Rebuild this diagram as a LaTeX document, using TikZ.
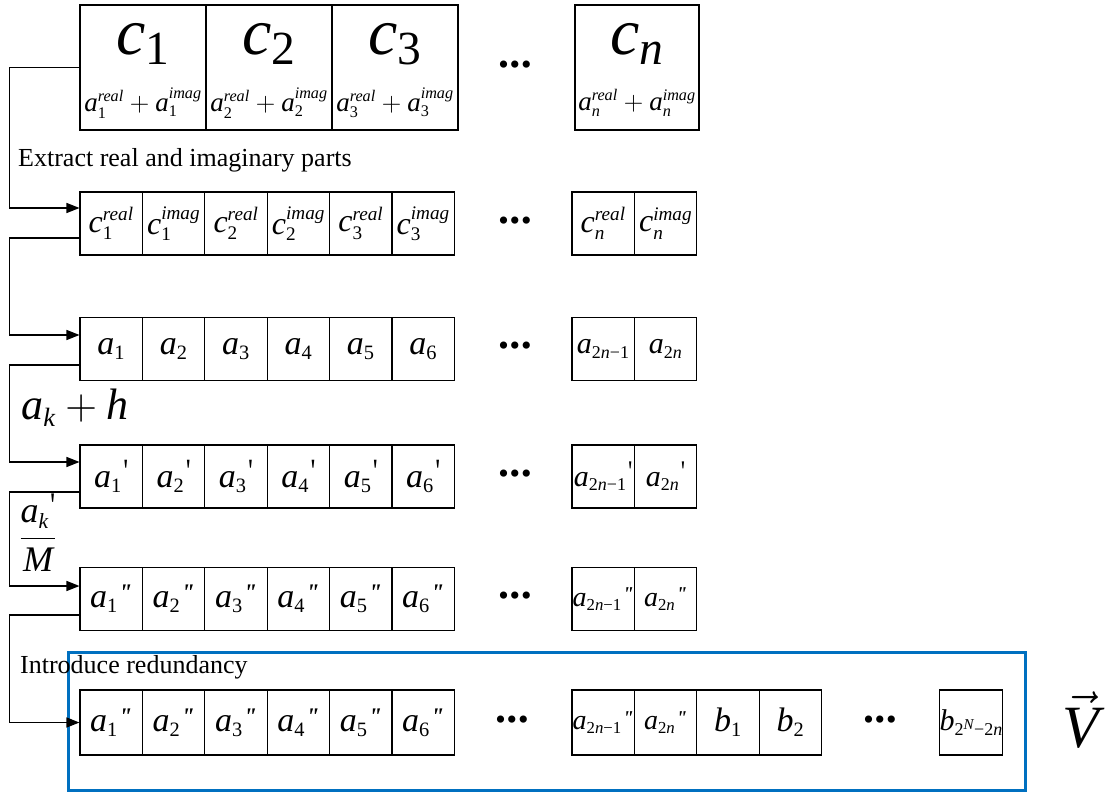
\RequirePackage{fix-cm}
\documentclass[tikz,border=0pt]{standalone}
\usepackage{amsmath}
\usepackage{graphicx}
\usepackage{fontspec}
\setmainfont{Liberation Serif}
\usetikzlibrary{arrows.meta}
\definecolor{boxblue}{RGB}{0,112,192}
\renewcommand{\defaultscriptratio}{.6}
\newcommand{\iv}[1]{\textit{#1}}
\newcommand{\up}[1]{\text{#1}}
\newcommand{\fs}[1]{\fontsize{#1}{#1}\selectfont}
\newcommand{\pr}{\text{\kern1.5pt\raisebox{.14em}{\scalebox{.8}[1]{\textquotesingle}}}}
\newcommand{\ppr}{\text{\kern1pt\raisebox{.2em}{\scalebox{.7}{\textbf{\textit{\textquotedbl}}}}}}
\newcommand{\threedots}{\textbullet\kern1pt\textbullet\kern1pt\textbullet}
\begin{document}
\begin{tikzpicture}[x=1pt,y=-1pt,
  cell/.style={draw, line width=1.1pt, inner sep=0pt, minimum width=62.4pt, minimum height=63pt, font=\fs{34}},
  narrow/.style={font=\fs{30}},
  narrower/.style={font=\fs{28}},
  big/.style={draw, line width=1.1pt, inner sep=0pt, minimum width=126pt, minimum height=125pt},
  conn/.style={line width=1.3pt},
  arr/.style={conn, -{Triangle[length=13pt,width=10pt]}},
  dots/.style={font=\fs{30}, inner sep=0pt},
  lbl/.style={font=\fs{26}, anchor=west, inner sep=0pt},
  cbig/.style={font={\def\defaultscriptratio{.72}\fs{66}}, inner sep=0pt},
  csub/.style={font=\fs{27}, inner sep=0pt}
]
\useasboundingbox (0,0) rectangle (1108,792);

% ---- row 1
\node[big] (r1c1) at (143,67.5) {};
\node[big] (r1c2) at (269,67.5) {};
\node[big] (r1c3) at (395,67.5) {};
\node[big, minimum width=124pt] (r1cn) at (637,67.5) {};
\foreach \k/\x in {1/143,2/269,3/395}{
  \node[cbig] (t1c\k) at (\x,44) {$\iv{c}_{\up{\k}}$};
  \node[csub] (t1a\k) at (\x,103) {$\iv{a}_{\up{\k}}^{\iv{real}}+\iv{a}_{\up{\k}}^{\iv{imag}}$};
}
\node[cbig] (t1cn) at (637,44) {$\iv{c}_{\iv{n}}$};
\node[csub] (t1an) at (637,103) {$\iv{a}_{\iv{n}}^{\iv{real}}+\iv{a}_{\iv{n}}^{\iv{imag}}$};
\node[dots] (d1) at (515,68) {\threedots};

% ---- row 2
\node[lbl] (lab1) at (18,160) {Extract real and imaginary parts};
\foreach \k in {1,2,3}{
  \pgfmathsetmacro\xa{111.2+124.8*(\k-1)}
  \pgfmathsetmacro\xb{\xa+62.4}
  \node[cell, font=\fs{32}] (r2r\k) at (\xa,223.5) {$\iv{c}_{\up{\k}}^{\iv{real}}$};
  \node[cell, font=\fs{32}] (r2i\k) at (\xb,223.5) {$\iv{c}_{\up{\k}}^{\iv{imag}}$};
}
\node[cell, font=\fs{32}] (r2rn) at (603.2,223.5) {$\iv{c}_{\iv{n}}^{\iv{real}}$};
\node[cell, font=\fs{32}] (r2in) at (665.6,223.5) {$\iv{c}_{\iv{n}}^{\iv{imag}}$};
\node[dots] (d2) at (515,223.5) {\threedots};

% ---- rows 3-5
\foreach \r/\y/\p/\ns in {3/349/{}/narrow, 4/476.5/{\pr}/narrow, 5/599/{\ppr}/narrower}{
  \foreach \j in {1,...,6}{
    \pgfmathsetmacro\xc{111.2+62.4*(\j-1)}
    \node[cell] (r\r c\j) at (\xc,\y) {$\iv{a}_{\up{\j}}\p$};
  }
  \node[cell, \ns] (r\r cm) at (603.2,\y) {$\iv{a}_{\up{2\iv{n}−1}}\p$};
  \node[cell, \ns] (r\r cn) at (665.6,\y) {$\iv{a}_{\up{2\iv{n}}}\p$};
  \node[dots] (d\r) at (515,\y) {\threedots};
}

% ---- row 6
\node[draw=boxblue, line width=3pt, inner sep=0pt, minimum width=957pt, minimum height=138pt] (redund) at (546.5,721) {};
\node[lbl] (lab2) at (20,667) {Introduce redundancy};
\foreach \j in {1,...,6}{
  \pgfmathsetmacro\xc{111.2+62.4*(\j-1)}
  \node[cell, minimum height=65pt] (r6c\j) at (\xc,722.5) {$\iv{a}_{\up{\j}}\ppr$};
}
\node[cell, narrower, minimum height=65pt] (r6cm) at (603.2,722.5) {$\iv{a}_{\up{2\iv{n}−1}}\ppr$};
\node[cell, narrower, minimum height=65pt] (r6cn) at (665.6,722.5) {$\iv{a}_{\up{2\iv{n}}}\ppr$};
\node[cell, minimum height=65pt] (r6b1) at (728,722.5) {$\iv{b}_{\up{1}}$};
\node[cell, minimum height=65pt] (r6b2) at (790.4,722.5) {$\iv{b}_{\up{2}}$};
\node[cell, minimum height=65pt, font=\fs{30}] (r6bl) at (971.2,722.5) {$\iv{b}_{\up{2}^{\iv{N}}\up{−2\iv{n}}}$};
\node[dots] (d6a) at (512,722.5) {\threedots};
\node[dots] (d6b) at (880,722.5) {\threedots};
\node[font=\fs{60}, inner sep=0pt] (vecV) at (1081,720) {$\vec{\iv{V}}$};

% ---- operation labels
\node[font=\fs{44}, inner sep=0pt] (opadd) at (75,408) {$\iv{a}_{\iv{k}}+\iv{h}$};
\node[font=\fs{36}, inner sep=0pt] (opdiv) at (38,533) {$\dfrac{\iv{a}_{\iv{k}}\pr}{\iv{M}}$};

% ---- connectors
\draw[arr] (r1c1.west) -- ++(-70,0) |- ([yshift=15.5pt]r2r1.west);
\draw[arr] ([yshift=-14.5pt]r2r1.west) -- ++(-70,0) |- ([yshift=14pt]r3c1.west);
\draw[arr] ([yshift=-16pt]r3c1.west) -- ++(-70,0) |- ([yshift=14.5pt]r4c1.west);
\draw[arr] ([yshift=-15.5pt]r4c1.west) -- ++(-70,0) |- ([yshift=13pt]r5c1.west);
\draw[arr] ([yshift=-16pt]r5c1.west) -- ++(-70,0) |- (r6c1.west);
\end{tikzpicture}
\end{document}
